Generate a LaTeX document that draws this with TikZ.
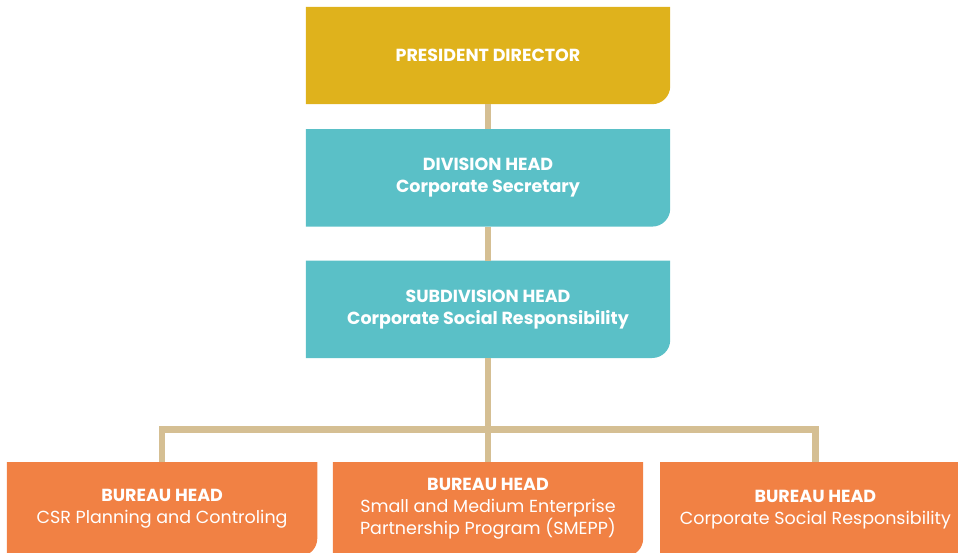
\documentclass[tikz,border=0pt]{standalone}
\usepackage{fontspec}
\setmainfont{Poppins}
\usetikzlibrary{positioning,backgrounds}
\definecolor{gold}{HTML}{DFB21C}
\definecolor{teal}{HTML}{5AC0C7}
\definecolor{orange}{HTML}{F18144}
\definecolor{tan}{HTML}{D5BF93}

\begin{document}
\begin{tikzpicture}[x=1pt,y=-1pt,
    every node/.style={shape=rectangle,inner sep=0pt,text=white,align=center,
        font=\fontsize{17.5}{22}\selectfont},
    box/.style={minimum width=364pt,minimum height=97pt},
    unit/.style={minimum width=310pt,minimum height=94pt},
    link/.style={draw=tan,line width=6.5pt},
]
    \useasboundingbox (0,0) rectangle (958,553);
    \clip (0,0) rectangle (958,553);
    % create the nodes
    \node (pres) [box] at (488,55.5) {\bfseries PRESIDENT DIRECTOR};
    \node (div)  [box, below=25pt of pres] {\bfseries DIVISION HEAD\\\bfseries Corporate Secretary};
    \node (sub)  [box, below=34pt of div] {\bfseries SUBDIVISION HEAD\\\bfseries Corporate Social Responsibility};
    \node (b2)   [unit, below=104pt of sub] {\bfseries BUREAU HEAD\\Small and Medium Enterprise\\Partnership Program (SMEPP)};
    \node (b1)   [unit, left=15.5pt of b2] {\bfseries BUREAU HEAD\\CSR Planning and Controling};
    \node (b3)   [unit, right=17pt of b2] {\bfseries BUREAU HEAD\\Corporate Social Responsibility};
    \coordinate (bar) at (488,429.5);
    % fill the boxes, one rounded corner each
    \begin{scope}[on background layer]
    \foreach \n/\c in {pres/gold,div/teal,sub/teal,b1/orange,b2/orange,b3/orange}
        \fill[\c] (\n.north west) -- (\n.north east) -- ([yshift=18pt]\n.south east)
            arc[start angle=0,end angle=-90,radius=18pt] -- (\n.south west) -- cycle;
    % connect the nodes
    \draw[link] (pres) -- (div);
    \draw[link] (div) -- (sub);
    \draw[link] (sub) -- (b2);
    \draw[link] (b1.north) |- (bar) -| (b3.north);
    \end{scope}
\end{tikzpicture}
\end{document}
